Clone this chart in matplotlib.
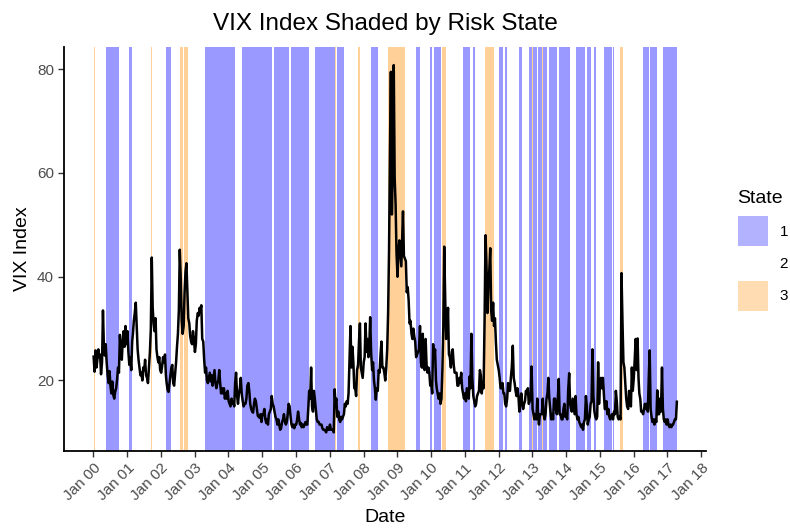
import numpy as np
import pandas as pd
import matplotlib
matplotlib.use('Agg')
import matplotlib.pyplot as plt
import matplotlib.dates as mdates
from matplotlib.patches import Patch

plt.rcParams['font.family'] = ['Liberation Sans', 'DejaVu Sans']

# VIX close, three readings a month (around the 3rd, 13th and 23rd)
vix_2000 = [24.6, 21.7, 25.8, 22.5, 24.1, 26.0, 24.5, 25.0, 21.2, 23.5, 33.5, 26.5,
            24.8, 27.0, 23.5, 21.0, 19.5, 21.8, 19.0, 17.5, 19.8, 17.2, 16.5, 17.8,
            18.5, 20.2, 22.5, 21.5, 28.8, 25.5, 24.0, 27.8, 29.5, 26.5, 30.5, 27.0]
vix_2001 = [29.5, 25.5, 23.0, 24.5, 22.0, 27.5, 29.0, 31.5, 33.0, 35.0, 30.5, 26.0,
            24.0, 22.5, 21.0, 21.5, 20.0, 22.5, 22.0, 24.0, 21.0, 20.5, 19.5, 22.5,
            25.5, 30.0, 43.7, 34.0, 31.0, 29.5, 32.0, 26.0, 24.5, 23.5, 24.5, 22.0]
vix_2002 = [21.5, 22.8, 24.5, 23.5, 25.0, 21.0, 19.5, 18.2, 17.8, 19.5, 21.0, 22.5,
            23.0, 19.5, 19.0, 21.5, 23.5, 26.5, 29.0, 33.5, 45.2, 39.5, 31.5, 29.0,
            30.5, 37.0, 41.0, 42.6, 37.0, 32.0, 31.0, 28.5, 27.5, 27.0, 29.5, 28.0]
vix_2003 = [25.5, 27.0, 31.5, 33.0, 32.5, 34.0, 33.5, 34.5, 28.0, 27.5, 24.0, 21.5,
            22.5, 20.0, 19.5, 20.5, 21.5, 19.8, 21.0, 19.0, 20.5, 22.0, 19.5, 18.5,
            19.5, 20.0, 22.0, 19.5, 17.5, 18.5, 17.5, 18.5, 16.5, 17.5, 16.5, 18.0]
vix_2004 = [16.0, 15.5, 15.0, 16.5, 15.5, 16.0, 15.0, 19.5, 21.5, 17.0, 15.5, 17.5,
            18.5, 20.5, 17.5, 16.0, 15.0, 15.5, 15.5, 16.5, 19.0, 19.5, 18.0, 15.5,
            14.5, 14.0, 13.8, 15.5, 16.5, 16.0, 14.5, 13.2, 13.0, 12.8, 13.5, 12.0]
vix_2005 = [13.5, 13.5, 14.5, 12.5, 11.8, 12.5, 11.5, 13.5, 14.0, 14.5, 17.0, 15.5,
            15.0, 14.0, 13.0, 12.5, 11.5, 12.5, 11.5, 10.5, 10.8, 12.0, 12.5, 13.5,
            12.0, 11.5, 12.0, 13.5, 15.5, 15.0, 13.0, 11.5, 11.0, 11.5, 10.8, 11.5]
vix_2006 = [11.5, 12.5, 14.0, 12.5, 11.5, 11.8, 11.0, 11.5, 11.0, 11.5, 12.0, 11.5,
            11.5, 14.5, 18.0, 16.5, 22.5, 15.0, 14.0, 18.0, 16.5, 14.5, 12.5, 12.0,
            12.0, 11.5, 11.5, 11.5, 10.8, 10.5, 10.5, 10.3, 10.0, 11.0, 10.5, 10.5]
vix_2007 = [11.5, 10.5, 10.5, 10.5, 10.0, 18.3, 15.5, 16.5, 13.0, 14.0, 12.5, 12.0,
            13.0, 12.5, 13.0, 13.5, 15.5, 15.0, 16.0, 15.5, 17.5, 24.5, 30.5, 22.5,
            26.5, 23.5, 18.5, 18.5, 17.0, 22.0, 23.0, 27.5, 31.0, 22.5, 21.5, 20.5]
vix_2008 = [23.5, 24.5, 31.0, 25.5, 28.0, 24.5, 26.5, 32.2, 25.5, 22.0, 23.5, 20.0,
            18.5, 16.3, 18.5, 18.0, 22.0, 21.5, 25.0, 27.5, 22.5, 22.5, 21.5, 20.0,
            22.5, 26.0, 33.0, 45.0, 64.0, 79.5, 52.0, 62.0, 80.8, 59.0, 54.0, 44.5]
vix_2009 = [40.0, 45.0, 47.0, 44.5, 42.0, 48.0, 52.6, 44.0, 43.5, 43.0, 37.0, 38.0,
            35.5, 31.0, 31.5, 29.0, 28.0, 30.0, 28.5, 27.5, 24.5, 25.0, 25.5, 26.0,
            30.5, 23.5, 22.5, 29.0, 22.5, 22.0, 28.0, 23.0, 21.5, 22.5, 21.5, 19.0]
vix_2010 = [19.5, 17.5, 27.0, 24.5, 26.0, 20.0, 18.5, 17.5, 16.5, 17.5, 15.5, 16.5,
            22.0, 30.0, 45.8, 35.5, 28.0, 29.5, 34.0, 25.0, 24.5, 22.5, 25.5, 26.0,
            23.0, 21.5, 21.5, 21.5, 19.0, 19.0, 20.5, 19.5, 21.5, 18.5, 17.5, 16.5]
vix_2011 = [17.5, 16.0, 18.5, 17.5, 16.5, 20.8, 18.5, 29.0, 20.5, 17.0, 16.0, 15.0,
            15.5, 17.0, 17.5, 18.0, 22.0, 21.0, 17.5, 19.5, 18.5, 32.0, 48.0, 42.5,
            33.0, 38.5, 41.3, 45.5, 33.5, 31.5, 35.0, 30.5, 32.0, 27.5, 24.0, 23.0]
vix_2012 = [22.0, 20.5, 18.5, 18.5, 19.5, 17.5, 17.5, 15.5, 15.0, 16.5, 19.5, 18.0,
            18.0, 20.5, 22.5, 26.7, 20.5, 19.5, 18.0, 17.0, 18.5, 17.0, 14.0, 15.5,
            17.5, 15.5, 14.5, 15.5, 16.0, 18.0, 17.5, 18.5, 15.5, 16.0, 17.0, 22.7]
vix_2013 = [14.5, 13.5, 12.5, 13.5, 12.5, 16.5, 13.5, 11.5, 13.5, 13.5, 13.5, 16.5,
            13.5, 12.5, 13.5, 16.5, 17.5, 20.5, 16.5, 14.5, 12.5, 13.5, 12.5, 16.5,
            16.5, 14.5, 13.5, 16.5, 20.3, 13.5, 13.5, 12.5, 12.5, 14.5, 15.5, 13.0]
vix_2014 = [13.0, 12.5, 18.0, 21.4, 15.5, 14.5, 14.0, 16.5, 15.0, 13.5, 17.0, 13.5,
            12.5, 13.0, 12.0, 11.5, 11.0, 11.5, 10.5, 12.0, 12.5, 17.0, 15.0, 11.5,
            12.5, 13.0, 15.5, 16.0, 26.0, 17.0, 14.0, 13.0, 12.5, 13.0, 23.5, 15.5]
vix_2015 = [19.5, 20.5, 18.5, 20.5, 17.5, 14.5, 14.5, 16.0, 13.5, 14.5, 13.0, 12.5,
            13.0, 13.5, 12.5, 14.0, 13.5, 18.0, 16.0, 13.0, 12.5, 13.0, 12.5, 40.7,
            31.0, 23.5, 22.5, 19.5, 16.5, 15.0, 14.5, 18.0, 16.0, 15.0, 22.5, 18.0]
vix_2016 = [20.5, 24.0, 28.0, 22.0, 28.1, 20.5, 17.5, 16.5, 14.0, 14.0, 13.5, 14.5,
            15.5, 14.5, 15.5, 14.0, 20.5, 25.8, 14.5, 13.0, 12.0, 12.5, 11.5, 12.5,
            12.0, 18.1, 13.5, 13.5, 16.5, 14.0, 22.5, 14.5, 12.5, 12.0, 12.5, 11.5]
vix_2017 = [12.5, 11.5, 11.0, 11.5, 11.0, 11.5, 11.5, 12.0, 12.5, 12.5, 15.9]

years = list(range(2000, 2018))
vix_by_year = [vix_2000, vix_2001, vix_2002, vix_2003, vix_2004, vix_2005,
               vix_2006, vix_2007, vix_2008, vix_2009, vix_2010, vix_2011,
               vix_2012, vix_2013, vix_2014, vix_2015, vix_2016, vix_2017]

# risk-state regimes (state 2 is left unshaded)
span_start = ['2000-01-03', '2000-05-20', '2001-01-21', '2001-09-17', '2002-02-28',
              '2002-07-22', '2002-09-06', '2003-04-22', '2004-05-24', '2005-05-08',
              '2005-11-07', '2006-07-25', '2007-02-27', '2007-03-20', '2007-11-04',
              '2008-03-23', '2008-09-25', '2009-01-02', '2009-07-18', '2009-12-22',
              '2010-02-01', '2010-04-25', '2010-12-14', '2011-03-29', '2011-08-07',
              '2012-01-04', '2012-03-16', '2012-08-11', '2012-11-24', '2012-12-27',
              '2013-01-07', '2013-03-08', '2013-04-10', '2013-04-21', '2013-06-28',
              '2013-10-14', '2014-02-03', '2014-04-16', '2014-08-10', '2014-10-31',
              '2015-02-13', '2015-05-18', '2015-08-12', '2016-04-13', '2016-06-28',
              '2016-11-15']
span_end = ['2000-01-20', '2000-10-04', '2001-02-26', '2001-09-28', '2002-04-16',
            '2002-08-23', '2002-10-20', '2004-03-12', '2005-04-17', '2005-10-17',
            '2006-05-18', '2007-02-26', '2007-03-08', '2007-06-07', '2007-11-23',
            '2008-06-03', '2008-12-23', '2009-03-26', '2009-09-06', '2010-01-14',
            '2010-04-14', '2010-06-07', '2011-02-25', '2011-04-23', '2011-11-14',
            '2012-02-13', '2012-04-03', '2012-09-09', '2012-12-26', '2013-01-06',
            '2013-02-22', '2013-04-10', '2013-04-21', '2013-06-04', '2013-09-26',
            '2014-01-27', '2014-02-10', '2014-07-19', '2014-09-25', '2014-11-25',
            '2015-05-07', '2015-06-04', '2015-09-03', '2016-06-14', '2016-09-08',
            '2017-04-13']
span_state = [3, 1, 1, 3, 1, 3, 3, 1, 1, 1,
              1, 1, 3, 1, 3, 1, 3, 3, 1, 1,
              1, 3, 1, 1, 3, 1, 1, 1, 1, 3,
              1, 1, 3, 1, 1, 1, 1, 1, 1, 1,
              1, 1, 3, 1, 1, 1]

dates = []
values = []
for y, vals in zip(years, vix_by_year):
    for i, v in enumerate(vals):
        dates.append(pd.Timestamp(y, i // 3 + 1, 3 + 10 * (i % 3)))
        values.append(v)
df = pd.DataFrame({'date': dates, 'vix': values})

state_colors = {1: (0, 0, 1), 3: (1, 0.549, 0)}

fig = plt.figure(figsize=(7.9, 5.31), dpi=100)
ax = fig.add_axes([0.0816, 0.1512, 0.8121, 0.7608])

for s, e, st in zip(span_start, span_end, span_state):
    ax.axvspan(pd.Timestamp(s), pd.Timestamp(e), color=state_colors[st],
               alpha=0.4, lw=0, zorder=1)

ax.plot(df['date'], df['vix'], color='black', lw=1.8, zorder=3)

# ggplot-like 5% expansion
x0, x1 = df['date'].min(), df['date'].max()
pad = (x1 - x0) * 0.05
ax.set_xlim(x0 - pad, x1 + pad)
lo, hi = df['vix'].min(), df['vix'].max()
ypad = (hi - lo) * 0.05
ax.set_ylim(lo - ypad, hi + ypad)

ax.xaxis.set_major_locator(mdates.YearLocator())
ax.xaxis.set_major_formatter(mdates.DateFormatter('Jan %y'))
ax.set_yticks([20, 40, 60, 80])

for side in ['top', 'right']:
    ax.spines[side].set_visible(False)
for side in ['left', 'bottom']:
    ax.spines[side].set_linewidth(1.3)
ax.tick_params(axis='both', length=4, width=1, color='#333333',
               labelcolor='#4d4d4d', labelsize=11)
plt.setp(ax.get_xticklabels(), rotation=45, ha='right', rotation_mode='anchor')

ax.set_xlabel('Date', fontsize=14, labelpad=4)
ax.set_ylabel('VIX Index', fontsize=14)
ax.set_title('VIX Index Shaded by Risk State', fontsize=17.5, pad=12)

# legend: title placed on its own, keys below it
fig.text(737 / 790, 1 - 203 / 531, 'State', fontsize=14, ha='left', va='baseline')
handles = [Patch(facecolor=(0, 0, 1, 0.3), edgecolor='none'),
           Patch(facecolor='none', edgecolor='none'),
           Patch(facecolor=(1, 0.549, 0, 0.3), edgecolor='none')]
fig.legend(handles, ['1', '2', '3'], loc='upper left',
           bbox_to_anchor=(738 / 790, 1 - 216 / 531), frameon=False,
           fontsize=11, handlelength=1.96, handleheight=2.64,
           labelspacing=0.16, handletextpad=0.75, borderpad=0, borderaxespad=0)

fig.savefig('out.png', dpi=100)
